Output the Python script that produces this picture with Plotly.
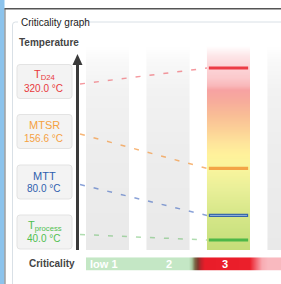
import numpy as np
import plotly.graph_objects as go

# ---------------- data ----------------
limit_names = ["T<sub>D24</sub>", "MTSR", "MTT", "T<sub>process</sub>"]
limit_temps = [320.0, 156.6, 80.0, 40.0]
temp_unit = "°C"
class_ids = [1, 2, 3, 4]
class_labels = ["low 1", "2", "3", ""]
criticality_class = 3

# ---------------- styles / layout ----------------
W, H = 281, 284
X_RANGE = [-0.777, 3.868]      # criticality-class axis
Y_RANGE = [-31.6, 430.7]       # temperature axis (°C)
FONT = "Liberation Sans, Arial, sans-serif"
limit_colors = ["#e8393c", "#f5a142", "#2f5fae", "#4fbf4f"]
marker_colors = ["#ec3c46", "#f3a446", "#3565a8", "#4db748"]
dash_colors = ["rgba(236,70,80,0.55)", "rgba(243,150,60,0.7)",
               "rgba(60,100,190,0.6)", "rgba(80,180,80,0.45)"]
slot_centers_px = [81.5, 131.5, 182.0, 232.0]
BOX_X0, BOX_X1, BOX_H = 17, 72, 34


def kx(px):
    return X_RANGE[0] + px / W * (X_RANGE[1] - X_RANGE[0])


def ty(py):
    return Y_RANGE[1] - py / H * (Y_RANGE[1] - Y_RANGE[0])


def fx(px):
    return px / W


def fy(py):
    return 1 - py / H


fig = go.Figure()

# ---------- columns (one per criticality class) ----------
COL_TOP, COL_BOT = 46, 250
HALF = 21.5 / 60.5
n = 204
edges_px = np.linspace(COL_BOT, COL_TOP, n + 1)
y_edges = [ty(p) for p in edges_px]
fpos = (COL_BOT - (edges_px[:-1] + edges_px[1:]) / 2) / (COL_BOT - COL_TOP)
zcol = fpos.reshape(-1, 1)

gray_stops = [(250, "#e9e9e9"), (150, "#ededed"), (90, "#f2f2f2"), (60, "#f9f9f9"), (46, "#ffffff")]
hot_stops = [(250, "#c5dd79"), (230, "#cde382"), (210, "#d9e88b"), (190, "#e8ef98"),
             (170, "#f8f49d"), (155, "#fff29b"), (143, "#fee49b"), (130, "#fcd197"),
             (115, "#f9bd96"), (100, "#f7aa9c"), (90, "#f7a2a2"), (86, "#f9b7b9"),
             (78, "#fbc9cc"), (66, "#fcd5d8"), (56, "#fde6e8"), (46, "#ffffff")]
gray_cs = [[(COL_BOT - p) / (COL_BOT - COL_TOP), c] for p, c in gray_stops]
hot_cs = [[(COL_BOT - p) / (COL_BOT - COL_TOP), c] for p, c in hot_stops]

for c in class_ids:
    fig.add_trace(go.Heatmap(
        x=[c - HALF, c + HALF], y=y_edges, z=zcol,
        colorscale=hot_cs if c == criticality_class else gray_cs,
        zmin=0, zmax=1, showscale=False, hoverinfo="skip"))

# ---------- dashed connectors ----------
for i, t in enumerate(limit_temps):
    fig.add_trace(go.Scatter(
        x=[kx(80), kx(207)], y=[ty(slot_centers_px[i] + 2.5), t],
        mode="lines", line=dict(color=dash_colors[i], width=1.5, dash="5px,9px"),
        hoverinfo="skip", showlegend=False))

# ---------- level markers in the active column ----------
MH = 0.325
for i, t in enumerate(limit_temps):
    fig.add_trace(go.Scatter(
        x=[criticality_class - MH, criticality_class + MH], y=[t, t],
        mode="lines", line=dict(color=marker_colors[i], width=3.2),
        hoverinfo="skip", showlegend=False))
    if i == 2:
        fig.add_trace(go.Scatter(
            x=[criticality_class - MH + 0.02, criticality_class + MH - 0.02], y=[t, t],
            mode="lines", line=dict(color="#8fb0da", width=1),
            hoverinfo="skip", showlegend=False))

# ---------- criticality bar ----------
BAR_X0, BAR_X1 = 86, 311
nb = 225
bx_px = np.linspace(BAR_X0, BAR_X1, nb + 1)
bx = [kx(p) for p in bx_px]
bz = [((bx_px[:-1] + bx_px[1:]) / 2 - BAR_X0) / (BAR_X1 - BAR_X0)]
bar_stops = [(86, "#c4e7c5"), (189, "#c4e7c5"), (192, "#a9c9a0"), (195, "#7a6a48"),
             (198, "#7e3a2c"), (201, "#c0222a"), (205, "#e91d29"), (250, "#eb1f2b"),
             (256, "#f26670"), (262, "#f8abb2"), (268, "#f9b9bf"), (311, "#f9b9bf")]
bar_cs = [[(p - BAR_X0) / (BAR_X1 - BAR_X0), c] for p, c in bar_stops]
fig.add_trace(go.Heatmap(x=bx, y=[0, 1], z=bz, colorscale=bar_cs, zmin=0, zmax=1,
                         showscale=False, hoverinfo="skip", xaxis="x", yaxis="y2"))

annotations = []
for c, lab in zip(class_ids, class_labels):
    if not lab:
        continue
    if c == 1:
        annotations.append(dict(x=kx(88), y=0.5, xref="x", yref="y2", text="<b>%s</b>" % lab,
                                showarrow=False, xanchor="left", yanchor="middle",
                                font=dict(family=FONT, size=11, color="white")))
    else:
        annotations.append(dict(x=c, y=0.5, xref="x", yref="y2", text="<b>%s</b>" % lab,
                                showarrow=False, xanchor="center", yanchor="middle",
                                xshift=-3 if c == 3 else 1,
                                font=dict(family=FONT, size=11, color="white")))

# ---------- decorations ----------
shapes = []
shapes.append(dict(type="rect", xref="paper", yref="paper", x0=0, x1=fx(4.5), y0=0, y1=1,
                   fillcolor="#8cc3ec", line=dict(width=0), layer="above"))
shapes.append(dict(type="line", xref="paper", yref="paper", x0=fx(5), x1=fx(5), y0=fy(8.5), y1=0,
                   line=dict(color="#707070", width=1)))
shapes.append(dict(type="line", xref="paper", yref="paper", x0=fx(4.5), x1=1, y0=fy(8.7), y1=fy(8.7),
                   line=dict(color="#555555", width=1.5)))
gb = "#d9e0e6"
shapes.append(dict(type="path", xref="paper", yref="paper",
                   path="M %f %f L %f %f Q %f %f %f %f L %f %f" % (
                       fx(12.5), fy(284), fx(12.5), fy(25), fx(12.5), fy(22), fx(15.5), fy(22),
                       fx(18), fy(22)),
                   line=dict(color=gb, width=1)))
shapes.append(dict(type="line", xref="paper", yref="paper", x0=fx(86), x1=1, y0=fy(22), y1=fy(22),
                   line=dict(color=gb, width=1)))
for i, yc in enumerate(slot_centers_px):
    y0, y1 = yc - BOX_H / 2, yc + BOX_H / 2
    r = 3
    path = ("M %f %f L %f %f Q %f %f %f %f L %f %f Q %f %f %f %f L %f %f Q %f %f %f %f "
            "L %f %f Q %f %f %f %f Z") % (
        fx(BOX_X0 + r), fy(y0), fx(BOX_X1 - r), fy(y0), fx(BOX_X1), fy(y0), fx(BOX_X1), fy(y0 + r),
        fx(BOX_X1), fy(y1 - r), fx(BOX_X1), fy(y1), fx(BOX_X1 - r), fy(y1),
        fx(BOX_X0 + r), fy(y1), fx(BOX_X0), fy(y1), fx(BOX_X0), fy(y1 - r),
        fx(BOX_X0), fy(y0 + r), fx(BOX_X0), fy(y0), fx(BOX_X0 + r), fy(y0))
    shapes.append(dict(type="path", xref="paper", yref="paper", path=path,
                       fillcolor="#f3f3f3", line=dict(color="#e3e3e3", width=1)))
    xc = (BOX_X0 + BOX_X1) / 2
    annotations.append(dict(x=fx(xc), y=fy(yc - 6.5), xref="paper", yref="paper",
                            text=limit_names[i], showarrow=False, xanchor="center", yanchor="middle",
                            font=dict(family=FONT, size=11, color=limit_colors[i])))
    annotations.append(dict(x=fx(xc - 1), y=fy(yc + 6.5), xref="paper", yref="paper",
                            text="%.1f %s" % (limit_temps[i], temp_unit), showarrow=False,
                            xanchor="center", yanchor="middle",
                            font=dict(family=FONT, size=10, color=limit_colors[i])))
shapes.append(dict(type="line", xref="paper", yref="paper", x0=fx(77.5), x1=fx(77.5),
                   y0=fy(63), y1=fy(250), line=dict(color="#3a3a3a", width=3)))
shapes.append(dict(type="path", xref="paper", yref="paper",
                   path="M %f %f L %f %f L %f %f Z" % (fx(72.5), fy(65), fx(82.5), fy(65), fx(77.5), fy(54)),
                   fillcolor="#3a3a3a", line=dict(width=0)))

annotations.append(dict(x=fx(19), y=fy(22), xref="paper", yref="paper", text="Criticality graph",
                        showarrow=False, xanchor="left", yanchor="middle",
                        font=dict(family=FONT, size=10, color="#1a1a1a")))
annotations.append(dict(x=fx(17), y=fy(42), xref="paper", yref="paper", text="<b>Temperature</b>",
                        showarrow=False, xanchor="left", yanchor="middle",
                        font=dict(family=FONT, size=10, color="#444444")))
annotations.append(dict(x=fx(77), y=fy(263.5), xref="paper", yref="paper", text="<b>Criticality</b>",
                        showarrow=False, xanchor="right", yanchor="middle",
                        font=dict(family=FONT, size=10, color="#444444")))

fig.update_layout(
    width=W, height=H, autosize=False,
    margin=dict(l=0, r=0, t=0, b=0, pad=0),
    paper_bgcolor="white", plot_bgcolor="white",
    showlegend=False,
    xaxis=dict(range=X_RANGE, visible=False, fixedrange=True),
    yaxis=dict(range=Y_RANGE, visible=False, fixedrange=True),
    yaxis2=dict(range=[0, 1], visible=False, domain=[fy(270.7), fy(257.3)], anchor="x",
                fixedrange=True),
    shapes=shapes, annotations=annotations,
)

fig.write_html("out.html", config={"displayModeBar": False},
               post_script="document.body.style.margin='0px';document.body.style.overflow='hidden';")
